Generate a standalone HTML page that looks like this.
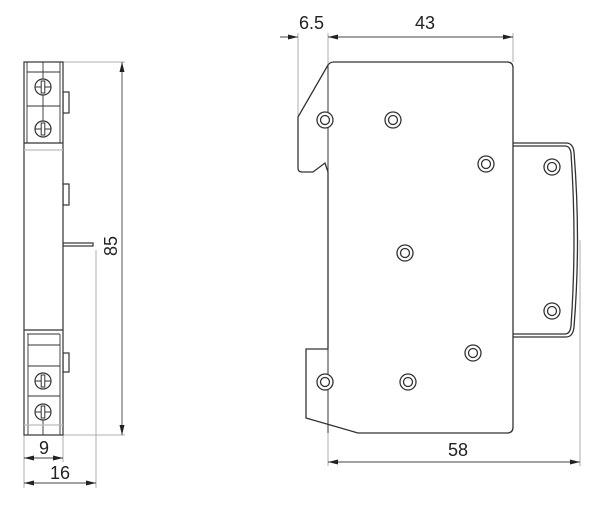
<!DOCTYPE html>
<html><head><style>body{margin:0;background:#fff}svg{display:block}text{font-family:"Liberation Sans",sans-serif;fill:#222}</style></head>
<body>
<svg width="600" height="512" viewBox="0 0 600 512" xmlns="http://www.w3.org/2000/svg">
<defs>
<g id="scr"><circle r="8" fill="#fff" stroke="#333" stroke-width="1.2"/><line x1="-8" y1="0" x2="8" y2="0" stroke="#333" stroke-width="1"/><rect x="-1.8" y="-6" width="3.6" height="12" fill="#fff" stroke="#333" stroke-width="1"/></g>
<g id="hole"><circle r="8" fill="#fff" stroke="#333" stroke-width="1.3"/><circle r="4.5" fill="none" stroke="#333" stroke-width="1.3"/></g>
<marker id="ar" markerWidth="10" markerHeight="6" refX="10" refY="3" orient="auto" markerUnits="userSpaceOnUse"><path d="M0,0.5 L10,3 L0,5.5z" fill="#222"/></marker>
</defs>
<g fill="none" stroke="#999" stroke-width="0.8">
<line x1="63" y1="62" x2="125" y2="62"/>
<line x1="24" y1="435" x2="125" y2="435"/>
<line x1="24" y1="435" x2="24" y2="488"/>
<line x1="63" y1="435" x2="63" y2="462"/>
<line x1="96" y1="250" x2="96" y2="488"/>
<line x1="298" y1="33" x2="298" y2="117"/>
<line x1="328" y1="33" x2="328" y2="466"/>
<line x1="513" y1="33" x2="513" y2="62"/>
<line x1="580" y1="240" x2="580" y2="466"/>
</g>
<g stroke="#444" stroke-width="0.9" fill="none">
<line x1="122" y1="242" x2="122" y2="62" marker-end="url(#ar)"/>
<line x1="122" y1="242" x2="122" y2="435" marker-end="url(#ar)"/>
<line x1="44" y1="458" x2="24" y2="458" marker-end="url(#ar)"/>
<line x1="44" y1="458" x2="63" y2="458" marker-end="url(#ar)"/>
<line x1="60" y1="483" x2="24" y2="483" marker-end="url(#ar)"/>
<line x1="60" y1="483" x2="96" y2="483" marker-end="url(#ar)"/>
<line x1="280" y1="37" x2="298" y2="37" marker-end="url(#ar)"/>
<line x1="420" y1="37" x2="328" y2="37" marker-end="url(#ar)"/>
<line x1="420" y1="37" x2="513" y2="37" marker-end="url(#ar)"/>
<line x1="450" y1="462" x2="328" y2="462" marker-end="url(#ar)"/>
<line x1="450" y1="462" x2="580" y2="462" marker-end="url(#ar)"/>
</g>
<g font-size="18">
<text x="299" y="29">6.5</text>
<text x="415" y="29">43</text>
<text x="448" y="456">58</text>
<text x="39" y="454">9</text>
<text x="50" y="479">16</text>
<text transform="translate(117,256) rotate(-90)">85</text>
</g>
<g stroke="#333" stroke-width="1.2" fill="#fff">
<rect x="63" y="92" width="6" height="21"/>
<rect x="63" y="184" width="6" height="21"/>
<rect x="63" y="353" width="6" height="19"/>
<rect x="63" y="243" width="30" height="3"/>
<rect x="24" y="62" width="39" height="373"/>
<line x1="24" y1="143" x2="63" y2="143"/>
<line x1="24" y1="150" x2="63" y2="150" stroke="#bbb"/>
<line x1="27" y1="62" x2="27" y2="143" stroke-width="0.9"/>
<line x1="60" y1="62" x2="60" y2="143" stroke-width="0.9"/>
<line x1="43" y1="62" x2="43" y2="79" stroke-width="0.9"/>
<line x1="27" y1="72" x2="60" y2="72" stroke-width="0.9"/>
<line x1="27" y1="106" x2="60" y2="106" stroke-width="0.9"/>
<line x1="43" y1="95" x2="43" y2="121" stroke-width="0.9"/>
<line x1="24" y1="330" x2="63" y2="330"/>
<line x1="27" y1="334" x2="60" y2="334" stroke-width="0.9"/>
<line x1="28" y1="334" x2="28" y2="435" stroke-width="0.9"/>
<line x1="60" y1="334" x2="60" y2="435" stroke-width="0.9"/>
<line x1="28" y1="345" x2="60" y2="345" stroke-width="0.9"/>
<line x1="28" y1="366" x2="60" y2="366" stroke-width="0.9"/>
<line x1="28" y1="396" x2="60" y2="396" stroke-width="0.9"/>
<line x1="43" y1="420" x2="43" y2="435" stroke-width="0.9"/>
<line x1="24" y1="425" x2="63" y2="425" stroke="#bbb"/>
</g>
<use href="#scr" x="43" y="87"/>
<use href="#scr" x="43" y="129"/>
<use href="#scr" x="43" y="381"/>
<use href="#scr" x="43" y="412"/>
<g stroke="#333" stroke-width="1.3" fill="#fff">
<path d="M512,143 L566,143 Q573,143 574,152 Q581,240 574,327 Q573,337 566,337 L512,337"/>
<path d="M512,146 L565,146 Q570,146 571,153 Q577,240 571,326 Q570,334 565,334 L512,334" fill="none"/>
<path d="M334,62 L507,62 Q513,62 513,68 L513,143 L513,337 L513,427 Q513,433 507,433 L358,433 L306,418 L306,349 L328,349 L328,172 L325,163 L313,172 L302,172 Q298,172 298,168 L298,117 L328,65 Q330,62 334,62 Z"/>
<line x1="328" y1="65" x2="328" y2="433" stroke-width="1"/>
</g>
<use href="#hole" x="325" y="120"/>
<use href="#hole" x="393" y="120"/>
<use href="#hole" x="486" y="164"/>
<use href="#hole" x="552" y="167"/>
<use href="#hole" x="405" y="253"/>
<use href="#hole" x="552" y="311"/>
<use href="#hole" x="473" y="353"/>
<use href="#hole" x="325" y="382"/>
<use href="#hole" x="408" y="382"/>
</svg>
</body></html>
